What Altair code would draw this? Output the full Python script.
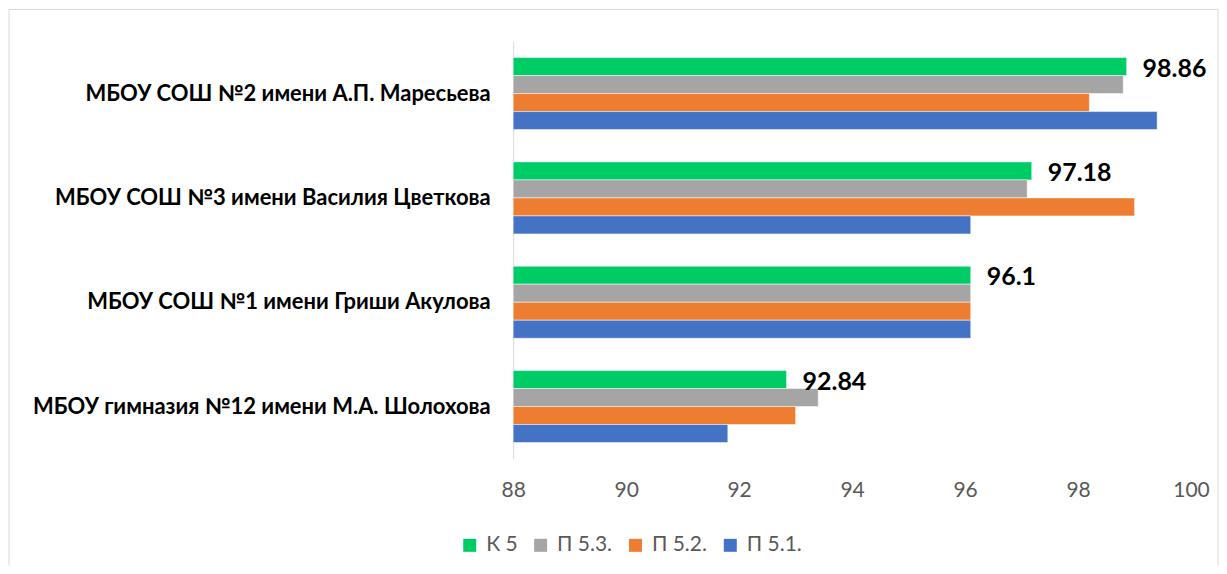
import altair as alt
import pandas as pd

schools = [
    "МБОУ СОШ №2 имени А.П. Маресьева",
    "МБОУ СОШ №3 имени Василия Цветкова",
    "МБОУ СОШ №1 имени Гриши Акулова",
    "МБОУ гимназия №12 имени М.А. Шолохова",
]
series = ["К 5", "П 5.3.", "П 5.2.", "П 5.1."]
colors = ["#00CC66", "#A5A5A5", "#ED7D31", "#4472C4"]

k5 = [98.86, 97.18, 96.1, 92.84]
p53 = [98.8, 97.1, 96.1, 93.4]
p52 = [98.2, 99.0, 96.1, 93.0]
p51 = [99.4, 96.1, 96.1, 91.8]
k5_labels = ["98.86", "97.18", "96.1", "92.84"]

rows = []
for i, s in enumerate(schools):
    for name, vals in zip(series, [k5, p53, p52, p51]):
        rows.append({"school": s, "series": name, "value": vals[i],
                     "label": k5_labels[i] if name == "К 5" else ""})
df = pd.DataFrame(rows)

y_enc = alt.Y("school:N", sort=schools,
              scale=alt.Scale(paddingInner=0.31, paddingOuter=0.155),
              axis=alt.Axis(title=None, labelFont="Lato", labelFontWeight="bold",
                            labelFontSize=22, labelColor="#000000", labelPadding=23,
                            ticks=False, domainColor="#d9d9d9", domainWidth=1,
                            labelLimit=700))
yoff_enc = alt.YOffset("series:N", sort=series,
                       scale=alt.Scale(domain=series, paddingInner=0, paddingOuter=0))
x_enc = alt.X("value:Q", stack=None,
              scale=alt.Scale(domain=[88, 100], zero=False, nice=False),
              axis=alt.Axis(title=None, values=[88, 90, 92, 94, 96, 98, 100],
                            labelFont="Lato", labelFontSize=21, labelColor="#595959",
                            labelFlush=False, labelBound=False,
                            domain=False, ticks=False, grid=False, labelPadding=21))

base = alt.Chart(df)

bars = base.mark_bar(stroke="white", strokeWidth=0.5).encode(
    y=y_enc, yOffset=yoff_enc, x=x_enc,
    color=alt.Color("series:N", sort=series,
                    scale=alt.Scale(domain=series, range=colors),
                    legend=alt.Legend(orient="none", legendX=-54, legendY=494,
                                      direction="horizontal", title=None,
                                      symbolType="square", symbolSize=169,
                                      symbolStrokeWidth=0, labelFont="Lato",
                                      labelFontSize=21, labelColor="#595959",
                                      labelOffset=6, columnPadding=12)),
)

labels = base.transform_filter(alt.datum.series == "К 5").mark_text(
    align="left", baseline="middle", dx=16, dy=2,
    font="Lato", fontWeight="bold", fontSize=25, color="#000000",
).encode(y=y_enc, yOffset=yoff_enc, x=x_enc, text="label:N")

one = pd.DataFrame({"a": [0]})
border_color = "#d9d9d9"
left = alt.Chart(one).mark_rule(color=border_color, strokeWidth=1).encode(
    x=alt.value(-505), y=alt.value(-32), y2=alt.value(525))
top = alt.Chart(one).mark_rule(color=border_color, strokeWidth=1).encode(
    x=alt.value(-505), x2=alt.value(706), y=alt.value(-32))
right = alt.Chart(one).mark_rule(color=border_color, strokeWidth=1).encode(
    x=alt.value(706), y=alt.value(-32), y2=alt.value(525))

chart = alt.layer(left, top, right, bars, labels).properties(
    width=679, height=418, padding=0, background="white"
).configure_view(stroke=None)

chart.save("out.html", embed_options={"renderer": "svg", "actions": False})
